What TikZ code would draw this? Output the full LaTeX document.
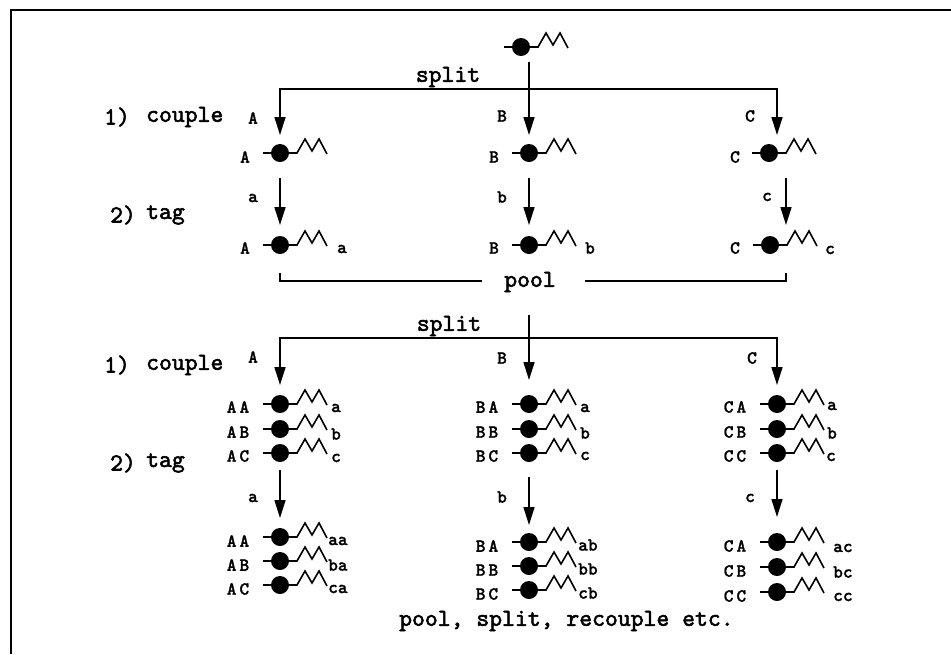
\documentclass[tikz,border=0pt]{standalone}
\usepackage{fontspec}
\newfontfamily\maintt{lmmono10-regular.otf}[FakeBold=2.2]
\newfontfamily\labeltt{lmmonolt10-bold.otf}[FakeBold=1.2]
\usetikzlibrary{arrows.meta}
\tikzset{
  ln/.style={line width=1.6pt},
  arr/.style={ln, -{Triangle[length=18pt,width=11pt]}},
  txt/.style={font=\maintt\fontsize{24.5}{26}\selectfont, inner sep=0pt},
  lbl/.style={font=\labeltt\fontsize{18.5}{19}\selectfont, inner sep=0pt},
  % bead with linker stub and zigzag chain
  mol/.pic={
    \draw[ln, line join=miter] (-17,0) -- (17,0) -- (25,-14) -- (32,-2) -- (39,-14) -- (47,1);
    \fill (0,0) circle (9pt);
  }
}
\begin{document}
\begin{tikzpicture}[x=1pt,y=-1pt]
\useasboundingbox (0,0) rectangle (951,654);
\draw[ln] (951,10) -- (11,10) -- (11,654);

% ---------- first round ----------
\coordinate (m0) at (521,47);
\pic at (m0) {mol};
\coordinate (v0) at (529,62);
\coordinate (j1) at (529,89);
\coordinate (t1A) at (280,135);
\coordinate (t1B) at (529,135);
\coordinate (t1C) at (777,135);
\draw[arr] (j1) -| (t1A);
\draw[arr] (j1) -| (t1C);
\draw[arr] (v0) -- (t1B);
\node[txt] (split1) at (448,77) {split};

\node[txt, anchor=west] (n1a) at (104,117) {1)};
\node[txt, anchor=west] (c1a) at (146,117) {couple};
\node[lbl] (sA1) at (253,118) {A};
\node[lbl] (sB1) at (502,116) {B};
\node[lbl] (sC1) at (750,116) {C};

\coordinate (m1A) at (280,153);
\coordinate (m1B) at (529,153);
\coordinate (m1C) at (769,153);
\pic at (m1A) {mol};
\pic at (m1B) {mol};
\pic at (m1C) {mol};
\node[lbl] (l1A) at (245,157) {A};
\node[lbl] (l1B) at (494,157) {B};
\node[lbl] (l1C) at (735,157) {C};

\node[txt, anchor=west] (n2a) at (110,215) {2)};
\node[txt, anchor=west] (t2a) at (146,215) {tag};
\coordinate (g1As) at (280,178); \coordinate (g1Ae) at (280,225);
\coordinate (g1Bs) at (529,178); \coordinate (g1Be) at (529,225);
\coordinate (g1Cs) at (786,178); \coordinate (g1Ce) at (786,225);
\draw[arr] (g1As) -- (g1Ae);
\draw[arr] (g1Bs) -- (g1Be);
\draw[arr] (g1Cs) -- (g1Ce);
\node[lbl] (ga1) at (253,198) {a};
\node[lbl] (gb1) at (502,197) {b};
\node[lbl] (gc1) at (767,197) {c};

\coordinate (m2A) at (280,245);
\coordinate (m2B) at (529,245);
\coordinate (m2C) at (770,245);
\pic at (m2A) {mol};
\pic at (m2B) {mol};
\pic at (m2C) {mol};
\node[lbl] (l2A) at (245,248) {A};
\node[lbl] (l2B) at (494,248) {B};
\node[lbl] (l2C) at (735,248) {C};
\node[lbl] (r2A) at (342,249) {a};
\node[lbl] (r2B) at (590,248) {b};
\node[lbl] (r2C) at (830,250) {c};

% pool bracket
\node[txt] (pool1) at (530,282) {pool};
\coordinate (pL0) at (280,273); \coordinate (pL1) at (280,281); \coordinate (pL2) at (482,281);
\coordinate (pR0) at (786,273); \coordinate (pR1) at (786,281); \coordinate (pR2) at (585,281);
\draw[ln] (pL0) -- (pL1) -- (pL2);
\draw[ln] (pR0) -- (pR1) -- (pR2);

% ---------- second round ----------
\coordinate (v1) at (529,315);
\coordinate (j2) at (529,338);
\coordinate (t2A) at (280,385);
\coordinate (t2B) at (529,380);
\coordinate (t2C) at (777,385);
\draw[arr] (j2) -| (t2A);
\draw[arr] (j2) -| (t2C);
\draw[arr] (v1) -- (t2B);
\node[txt] (split2) at (449,326) {split};
\node[lbl] (sA2) at (253,357) {A};
\node[lbl] (sB2) at (502,358) {B};
\node[lbl] (sC2) at (752,358) {C};

\node[txt, anchor=west] (n1b) at (104,365) {1)};
\node[txt, anchor=west] (c1b) at (146,365) {couple};

% coupled stacks
\foreach \col/\x/\cx/\P in {A/280/238/A, B/529/487/B, C/777/735/C}{
  \foreach \row/\y/\Q/\q in {1/404/A/a, 2/429/B/b, 3/453/C/c}{
    \coordinate (k\col\row) at (\x,\y);
    \pic at (k\col\row) {mol};
    \node[lbl] (kl\col\row) at (\cx,\y+3) {\P\kern3pt\Q};
  }
}
\node[lbl] (krA1) at (336,408) {a};
\node[lbl] (krA2) at (336,434) {b};
\node[lbl] (krA3) at (336,458) {c};
\node[lbl] (krB1) at (585,408) {a};
\node[lbl] (krB2) at (585,433) {b};
\node[lbl] (krB3) at (585,456) {c};
\node[lbl] (krC1) at (832,406) {a};
\node[lbl] (krC2) at (832,433) {b};
\node[lbl] (krC3) at (831,457) {c};

\node[txt, anchor=west] (n2b) at (110,463) {2)};
\node[txt, anchor=west] (t2b) at (146,463) {tag};
\coordinate (g2As) at (280,470); \coordinate (g2Ae) at (280,518);
\coordinate (g2Bs) at (529,477); \coordinate (g2Be) at (529,525);
\coordinate (g2Cs) at (777,470); \coordinate (g2Ce) at (777,517);
\draw[arr] (g2As) -- (g2Ae);
\draw[arr] (g2Bs) -- (g2Be);
\draw[arr] (g2Cs) -- (g2Ce);
\node[lbl] (ga2) at (253,498) {a};
\node[lbl] (gb2) at (502,497) {b};
\node[lbl] (gc2) at (750,498) {c};

% tagged stacks
\foreach \col/\x/\cx/\P/\ya/\yb/\yc in {A/280/238/A/537/561/585, B/529/487/B/542/566/590, C/777/735/C/542/567/592}{
  \coordinate (f\col1) at (\x,\ya);
  \coordinate (f\col2) at (\x,\yb);
  \coordinate (f\col3) at (\x,\yc);
  \pic at (f\col1) {mol};
  \pic at (f\col2) {mol};
  \pic at (f\col3) {mol};
  \node[lbl] (fl\col1) at (\cx,\ya+4) {\P\kern3pt A};
  \node[lbl] (fl\col2) at (\cx,\yb+4) {\P\kern3pt B};
  \node[lbl] (fl\col3) at (\cx,\yc+4) {\P\kern3pt C};
}
\node[lbl, anchor=west] (frA1) at (328,541) {aa};
\node[lbl, anchor=west] (frA2) at (328,565) {ba};
\node[lbl, anchor=west] (frA3) at (328,589) {ca};
\node[lbl, anchor=west] (frB1) at (578,545) {ab};
\node[lbl, anchor=west] (frB2) at (578,569) {bb};
\node[lbl, anchor=west] (frB3) at (578,593) {cb};
\node[lbl, anchor=west] (frC1) at (833,548) {ac};
\node[lbl, anchor=west] (frC2) at (833,572) {bc};
\node[lbl, anchor=west] (frC3) at (833,597) {cc};

\node[txt, anchor=west] (foot) at (399,621) {pool, split, recouple etc.};
\end{tikzpicture}
\end{document}
